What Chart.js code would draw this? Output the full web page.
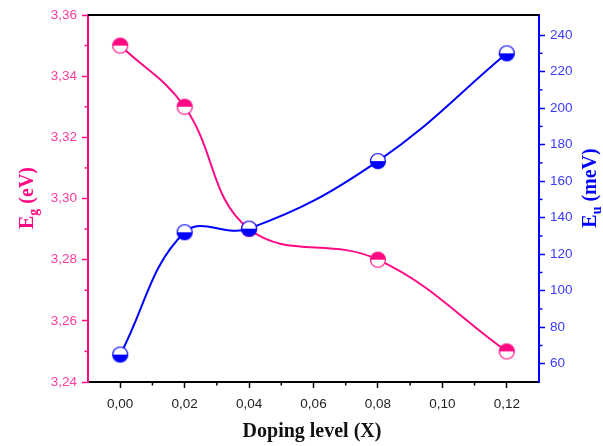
<!DOCTYPE html>
<html>
<head>
<meta charset="utf-8">
<script src="https://cdn.jsdelivr.net/npm/chart.js@4/dist/chart.umd.min.js"></script>
<style>
  body { margin: 0; background: #fff; }
  #wrap { width: 603px; height: 446px; position: relative; }
</style>
</head>
<body>
<div id="wrap"><canvas id="bandChart"></canvas></div>
<script>
// data
var dopingLevel = [0.00, 0.02, 0.04, 0.08, 0.12];
var egValues = [3.35, 3.33, 3.29, 3.28, 3.25];
var euValues = [65, 132, 134, 171, 230];

var xTicks = [0.00, 0.02, 0.04, 0.06, 0.08, 0.10, 0.12];
var xMinorTicks = [0.01, 0.03, 0.05, 0.07, 0.09, 0.11];
var egTicks = [3.24, 3.26, 3.28, 3.30, 3.32, 3.34, 3.36];
var egMinorTicks = [3.25, 3.27, 3.29, 3.31, 3.33, 3.35];
var euTicks = [60, 80, 100, 120, 140, 160, 180, 200, 220, 240];
var euMinorTicks = [70, 90, 110, 130, 150, 170, 190, 210, 230];

var pink = "#ff0a84";
var blue = "#0000ff";

// half filled circle markers
function halfMarker(color, fillTop) {
  var c = document.createElement("canvas");
  c.width = 18;
  c.height = 18;
  var g = c.getContext("2d");
  g.fillStyle = "#fff";
  g.beginPath();
  g.arc(9, 9, 7.5, 0, Math.PI * 2);
  g.fill();
  g.fillStyle = color;
  g.beginPath();
  if (fillTop) g.arc(9, 9, 7.5, Math.PI, Math.PI * 2);
  else g.arc(9, 9, 7.5, 0, Math.PI);
  g.closePath();
  g.fill();
  g.strokeStyle = color;
  g.lineWidth = 1.2;
  g.beginPath();
  g.arc(9, 9, 7.5, 0, Math.PI * 2);
  g.stroke();
  return c;
}

function toPoints(xs, ys) {
  return xs.map(function(x, i) { return { x: x, y: ys[i] }; });
}

function commaFmt(v) {
  return Number(v).toFixed(2).replace(".", ",");
}

function setTicks(list) {
  return function(scale) {
    scale.ticks = list.map(function(v) { return { value: v }; });
  };
}

// minor ticks, top frame line and axis titles with subscripts
var decorPlugin = {
  id: "decor",
  afterDraw: function(chart) {
    var ctx = chart.ctx;
    var a = chart.chartArea;
    var sx = chart.scales.x, sl = chart.scales.y, sr = chart.scales.y1;
    ctx.save();
    ctx.lineWidth = 1.5;

    ctx.strokeStyle = "#000";
    xMinorTicks.forEach(function(v) {
      var px = sx.getPixelForValue(v);
      ctx.beginPath(); ctx.moveTo(px, a.bottom); ctx.lineTo(px, a.bottom + 3.5); ctx.stroke();
    });
    ctx.strokeStyle = pink;
    egMinorTicks.forEach(function(v) {
      var py = sl.getPixelForValue(v);
      ctx.beginPath(); ctx.moveTo(a.left, py); ctx.lineTo(a.left - 3.5, py); ctx.stroke();
    });
    ctx.strokeStyle = blue;
    euMinorTicks.forEach(function(v) {
      var py = sr.getPixelForValue(v);
      ctx.beginPath(); ctx.moveTo(a.right, py); ctx.lineTo(a.right + 3.5, py); ctx.stroke();
    });

    // top frame
    ctx.strokeStyle = "#000";
    ctx.lineWidth = 2;
    ctx.beginPath(); ctx.moveTo(a.left, a.top); ctx.lineTo(a.right, a.top); ctx.stroke();

    // x title
    ctx.fillStyle = "#111";
    ctx.font = "bold 20px 'Liberation Serif'";
    ctx.textAlign = "center";
    ctx.textBaseline = "middle";
    ctx.fillText("Doping level (X)", 312, 432);

    drawSubTitle(ctx, "E", "g", " (eV)", pink, 28, 198);
    drawSubTitle(ctx, "E", "u", " (meV)", blue, 591, 188);
    ctx.restore();
  }
};

function drawSubTitle(ctx, main, sub, rest, color, cx, cy) {
  ctx.save();
  ctx.translate(cx, cy);
  ctx.rotate(-Math.PI / 2);
  ctx.fillStyle = color;
  ctx.textAlign = "left";
  ctx.textBaseline = "middle";
  var big = "bold 20px 'Liberation Serif'";
  var small = "bold 14px 'Liberation Serif'";
  ctx.font = big;
  var w1 = ctx.measureText(main).width;
  var w3 = ctx.measureText(rest).width;
  ctx.font = small;
  var w2 = ctx.measureText(sub).width;
  var x0 = -(w1 + w2 + w3) / 2;
  ctx.font = big;
  ctx.fillText(main, x0, 0);
  ctx.font = small;
  ctx.fillText(sub, x0 + w1, 6);
  ctx.font = big;
  ctx.fillText(rest, x0 + w1 + w2, 0);
  ctx.restore();
}

var canvas = document.getElementById("bandChart");
var bandChart = new Chart(canvas, {
  type: "line",
  data: {
    datasets: [{
      label: "Eu",
      data: toPoints(dopingLevel, euValues),
      yAxisID: "y1",
      borderColor: blue,
      borderWidth: 2,
      fill: false,
      tension: 0.4,
      pointStyle: halfMarker(blue, false),
      pointRadius: 8
    }, {
      label: "Eg",
      data: toPoints(dopingLevel, egValues),
      yAxisID: "y",
      borderColor: pink,
      borderWidth: 2,
      fill: false,
      tension: 0.4,
      pointStyle: halfMarker(pink, true),
      pointRadius: 8
    }]
  },
  options: {
    responsive: true,
    maintainAspectRatio: false,
    animation: false,
    layout: { padding: { top: 15, left: 0, right: 0, bottom: 0 } },
    plugins: { legend: { display: false }, tooltip: { enabled: false } },
    scales: {
      x: {
        type: "linear",
        min: -0.01,
        max: 0.13,
        afterBuildTicks: setTicks(xTicks),
        afterFit: function(s) { s.height = 64; },
        border: { display: true, color: "#000", width: 2 },
        grid: { drawOnChartArea: false, drawTicks: true, tickLength: 6, tickColor: "#000", tickWidth: 1.5 },
        ticks: {
          callback: commaFmt,
          color: "#222",
          padding: 8,
          maxRotation: 0,
          font: { family: "'Liberation Sans'", size: 13.5 }
        }
      },
      y: {
        position: "left",
        min: 3.24,
        max: 3.36,
        afterBuildTicks: setTicks(egTicks),
        afterFit: function(s) { s.width = 88; },
        border: { display: true, color: pink, width: 2 },
        grid: { drawOnChartArea: false, drawTicks: true, tickLength: 6, tickColor: pink, tickWidth: 1.5 },
        ticks: {
          callback: commaFmt,
          color: "#ff3d9e",
          padding: 5,
          font: { family: "'Liberation Sans'", size: 13.5 }
        }
      },
      y1: {
        position: "right",
        min: 50,
        max: 251,
        afterBuildTicks: setTicks(euTicks),
        afterFit: function(s) { s.width = 64; },
        border: { display: true, color: blue, width: 2 },
        grid: { drawOnChartArea: false, drawTicks: true, tickLength: 6, tickColor: blue, tickWidth: 1.5 },
        ticks: {
          color: "#3a3aff",
          padding: 5,
          font: { family: "'Liberation Sans'", size: 13.5 }
        }
      }
    }
  },
  plugins: [decorPlugin]
});
</script>
</body>
</html>
